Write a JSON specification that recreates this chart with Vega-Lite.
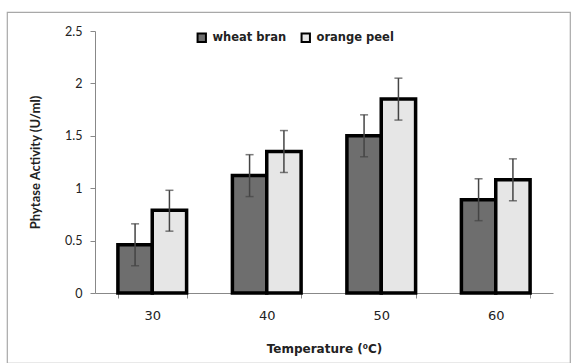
{
  "$schema": "https://vega.github.io/schema/vega-lite/v6.json",
  "autosize": {"type": "none"},
  "width": 563,
  "height": 351,
  "padding": {"left": 7, "top": 12, "right": 2, "bottom": 0},
  "background": "white",
  "config": {
    "view": {"stroke": "#a8a8a8", "strokeWidth": 1.2},
    "font": "Lato",
    "axis": {"labelFont": "Lato", "titleFont": "Lato", "labelColor": "#222", "titleColor": "#222", "domainColor": "#888", "tickColor": "#888", "grid": false}
  },
  "data": {
    "values": [
      {"temp": "30", "substrate": "wheat bran", "value": 0.46, "lo": 0.26, "hi": 0.66},
      {"temp": "30", "substrate": "orange peel", "value": 0.79, "lo": 0.59, "hi": 0.98},
      {"temp": "40", "substrate": "wheat bran", "value": 1.12, "lo": 0.92, "hi": 1.32},
      {"temp": "40", "substrate": "orange peel", "value": 1.35, "lo": 1.15, "hi": 1.55},
      {"temp": "50", "substrate": "wheat bran", "value": 1.5, "lo": 1.3, "hi": 1.7},
      {"temp": "50", "substrate": "orange peel", "value": 1.85, "lo": 1.65, "hi": 2.05},
      {"temp": "60", "substrate": "wheat bran", "value": 0.89, "lo": 0.69, "hi": 1.09},
      {"temp": "60", "substrate": "orange peel", "value": 1.08, "lo": 0.88, "hi": 1.28}
    ]
  },
  "encoding": {
    "x": {
      "field": "temp", "type": "nominal",
      "scale": {"range": [88, 546], "paddingInner": 0.4, "paddingOuter": 0.2},
      "axis": {"title": "Temperature (⁰C)", "offset": -70, "labelAngle": 0, "tickBand": "extent", "labelFont": "DejaVu Sans", "labelFontSize": 13, "labelPadding": 11, "titleFont": "DejaVu Sans", "titleFontSize": 12, "titleFontWeight": "bold", "titlePadding": 21, "tickSize": 5}
    },
    "xOffset": {"field": "substrate", "type": "nominal", "sort": ["wheat bran", "orange peel"], "scale": {"paddingInner": 0}}
  },
  "layer": [
    {
      "mark": {"type": "bar", "stroke": "black", "strokeWidth": 3.5},
      "encoding": {
        "y": {
          "field": "value", "type": "quantitative",
          "scale": {"domain": [0, 2.5], "nice": false, "range": [281, 19]},
          "axis": {"title": "Phytase Activity (U/ml)", "offset": -88, "values": [0, 0.5, 1, 1.5, 2, 2.5], "format": "~g", "labelFontSize": 12.5, "labelPadding": 8, "titleFontSize": 13, "titleFontWeight": "bold", "titlePadding": 22, "tickSize": 5}
        },
        "fill": {
          "field": "substrate", "type": "nominal", "sort": ["wheat bran", "orange peel"],
          "scale": {"domain": ["wheat bran", "orange peel"], "range": ["#6e6e6e", "#e6e6e6"]},
          "legend": {"title": null, "orient": "none", "legendX": 189, "legendY": 20, "padding": 0, "direction": "horizontal", "symbolType": "square", "symbolSize": 70, "symbolStrokeColor": "black", "symbolStrokeWidth": 2, "labelFont": "DejaVu Sans", "labelFontSize": 11.5, "labelFontWeight": "bold", "labelColor": "#222", "columnPadding": 10, "labelOffset": 5}
        }
      }
    },
    {
      "mark": {"type": "rule", "color": "#444", "strokeWidth": 1.5},
      "encoding": {
        "y": {"field": "lo", "type": "quantitative"},
        "y2": {"field": "hi"}
      }
    },
    {
      "mark": {"type": "tick", "color": "#444", "thickness": 1.5, "size": 8},
      "encoding": {"y": {"field": "hi", "type": "quantitative"}}
    },
    {
      "mark": {"type": "tick", "color": "#444", "thickness": 1.5, "size": 8},
      "encoding": {"y": {"field": "lo", "type": "quantitative"}}
    }
  ]
}
